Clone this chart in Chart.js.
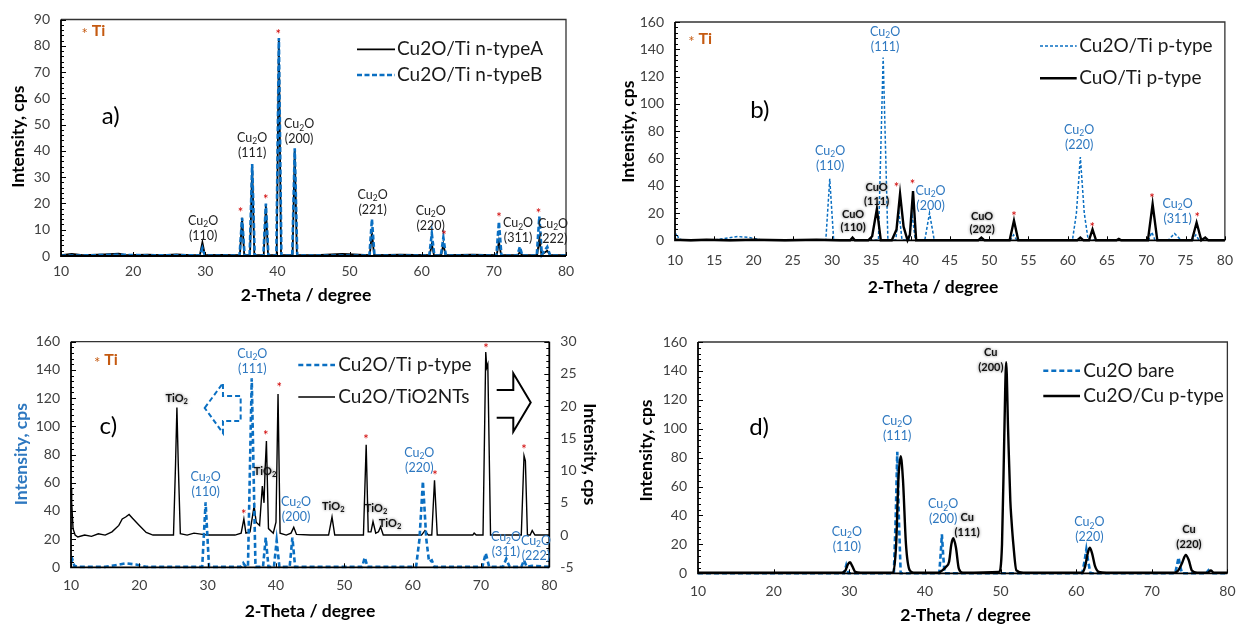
<!DOCTYPE html>
<html><head><meta charset="utf-8">
<script src="https://cdn.jsdelivr.net/npm/chart.js@4.4.1/dist/chart.umd.min.js"></script>
<style>
html,body{margin:0;padding:0;background:#fff;}
#wrap{position:relative;width:1245px;height:626px;overflow:hidden;background:#fff;}
canvas{position:absolute;}
</style></head><body>
<div id="wrap">
<canvas id="cA" width="605" height="313" style="left:0px;top:0px"></canvas>
<canvas id="cB" width="640" height="313" style="left:605px;top:0px"></canvas>
<canvas id="cC" width="605" height="313" style="left:0px;top:313px"></canvas>
<canvas id="cD" width="640" height="313" style="left:605px;top:313px"></canvas>
</div>
<script>
// ================= DATA =================
// ---- panel a ----
const aRangeX = [10, 80, 10];
const aRangeY = [0, 90, 10];
const aNames = ['Cu2O/Ti n-typeA', 'Cu2O/Ti n-typeB'];
const aSeriesA = [[10,0.3],[11.5,0.8],[13,0.3],[16,0.6],[18,0.9],[19,0.3],[22,0.5],[24,0.3],[26,0.6],[28,0.3],[29.25,0.3],[29.6,5.2],[29.95,0.3],[32,0.4],[34.8,0.3],[35.1,14.5],[35.4,0.3],[36.2,0.3],[36.5,34],[36.8,0.3],[38.1,0.3],[38.4,19],[38.7,0.3],[39.9,0.3],[40.2,82],[40.5,0.3],[42.1,0.3],[42.4,40],[42.7,0.3],[46,0.4],[49,0.8],[52.8,0.3],[53.1,9],[53.4,0.3],[57,0.5],[61.1,0.3],[61.4,4.5],[61.7,0.3],[62.7,0.3],[63,4.5],[63.3,0.3],[67,0.5],[70.4,0.3],[70.7,5.5],[71,0.3],[73.3,0.3],[73.6,1.5],[73.9,0.3],[76,0.3],[76.3,6.5],[76.6,0.5],[77.4,2],[77.8,0.3],[80,0.3]];
const aSeriesB = [[10,0.2],[13,0.2],[18,0.5],[22,0.2],[28,0.3],[29.25,0.2],[29.6,3],[29.95,0.2],[34.75,0.2],[35.1,14.5],[35.45,0.2],[36.15,0.2],[36.5,35],[36.85,0.2],[38.05,0.2],[38.4,20],[38.75,0.2],[39.85,0.2],[40.2,83],[40.55,0.2],[42.05,0.2],[42.4,41],[42.75,0.2],[52.75,0.2],[53.1,14],[53.45,0.2],[61.05,0.2],[61.4,8.5],[61.75,0.2],[62.65,0.2],[63,7],[63.35,0.2],[70.35,0.2],[70.7,13],[71.05,0.2],[73.25,0.2],[73.6,3.5],[73.95,0.2],[75.95,0.2],[76.3,15],[76.65,0.5],[77.4,3.5],[77.8,0.2],[80,0.2]];
const aPeakLabels = [[29.7,13.3,'(110)'],[36.5,45,'(111)'],[43.0,50.1,'(200)'],[53.2,23.2,'(221)'],[61.25,17.1,'(220)'],[73.35,12.4,'(311)'],[78.2,12.2,'(222)']];
const aTiMarks = [[34.9,17.6],[38.4,22.6],[40.1,85.6],[63.1,9.0],[70.7,15.9],[76.2,17.2]];

// ---- panel b ----
const bRangeX = [10, 80, 5];
const bRangeY = [0, 160, 20];
const bNames = ['Cu2O/Ti p-type', 'CuO/Ti p-type'];
const bBlue = [[10,3],[10.2,5],[10.5,1],[11,0.2],[15,0.2],[16.5,1.5],[18,2.8],[19.5,2],[21,0.2],[25,0.2],[29.2,0.2],[29.7,45],[30.2,0.2],[35.9,0.2],[36.5,134],[37.1,0.2],[38.1,0.2],[38.5,21],[38.9,0.2],[39.8,0.2],[40.2,18],[40.6,0.2],[41.8,0.2],[42.4,20],[43.0,0.2],[52.7,0.2],[53.1,4],[53.5,0.2],[60.6,0.2],[61.1,20],[61.6,61],[62.1,20],[62.6,0.2],[70.3,0.2],[70.7,6],[71.1,0.2],[72.8,0.2],[73.6,5],[74.4,0.2],[75.9,0.2],[76.3,4],[76.7,0.2],[80,0.2]];
const bBlack = [[10,0.5],[12,0],[14,0.5],[17,0],[20,0.5],[24,0],[28,0.5],[31,0],[32.3,0],[32.6,2],[32.9,0],[34.6,0],[35.1,3],[35.7,23],[36.2,0],[37.6,0],[38.2,8],[38.65,34],[39.1,10],[39.6,0],[39.9,4],[40.3,36],[40.7,0],[45,0],[48.6,0],[49.0,2],[49.4,0],[52.6,0],[53.15,14.5],[53.7,0],[58,0],[61.2,0],[61.6,2],[62.0,0],[62.7,0],[63.15,8],[63.6,0],[66.2,0],[66.5,1],[66.8,0],[68,0],[70.2,0],[70.8,26.5],[71.4,0],[75.8,0],[76.4,13],[77.0,0],[77.5,2],[77.9,0],[80,0]];
const bBlueLabels = [[29.75,65.5,'(110)'],[36.74,152.9,'(111)'],[42.53,36.4,'(200)'],[61.45,80.9,'(220)'],[73.98,26.6,'(311)']];
const bBlackLabels = [[32.67,19.1,'(110)'],[35.67,38.6,'(111)'],[49.1,17.8,'(202)']];
const bTiMarks = [[38.2,41.3],[40.23,43],[53.17,19.8],[63.12,12],[70.73,33.2],[76.47,19.1]];

// ---- panel c ----
const cRangeX = [10, 80, 10];
const cRangeY = [0, 160, 20];
const cRangeY2 = [-5, 30, 5];
const cNames = ['Cu2O/Ti p-type', 'Cu2O/TiO2NTs'];
const cBlue = [[10,3],[10.2,5.5],[10.5,1],[11,0.3],[15,0.3],[16.5,1.5],[18,2.8],[19.5,2],[21,0.3],[25,0.3],[29.2,0.3],[29.7,46],[30.2,0.3],[34.8,0.3],[35.2,3],[35.6,0.3],[35.9,0.3],[36.45,134],[37.0,0.3],[38.1,0.3],[38.5,21],[38.9,0.3],[39.7,0.3],[40.1,19],[40.5,0.3],[42.0,0.3],[42.4,21],[42.8,0.3],[52.6,0.3],[53.0,7],[53.4,0.3],[60.5,0.3],[61.0,20],[61.5,61],[62.0,20],[62.4,4],[62.8,5],[63.2,0.3],[70.2,0.3],[70.7,10],[71.2,0.3],[73.2,0.3],[73.7,6],[74.2,0.3],[75.9,0.3],[76.3,5],[76.7,0.3],[77.5,1],[80,0.3]];
const cBlack = [[10,7.2],[10.1,5],[10.3,1],[10.6,0],[11,-0.3],[12,0],[13,-0.2],[14,0.2],[15,0],[16,0.5],[17,1.5],[17.5,2.5],[18,2.8],[18.5,3.2],[19,2.6],[20,1.5],[21,0.4],[22,0],[24,0],[25.0,0],[25.3,11],[25.5,19.8],[25.7,11],[26.0,0.2],[27,0],[28,0.3],[30,0],[32,0],[34,0],[34.9,0.3],[35.3,2.5],[35.6,0.3],[36.2,0.5],[36.5,2.5],[36.8,4.5],[37.1,2],[37.6,1.5],[38.0,7.6],[38.25,5],[38.4,10],[38.6,14.6],[38.9,1],[39.6,0.3],[40.0,2],[40.3,21.9],[40.6,0.3],[41.5,0],[42.2,0.3],[42.6,1.2],[43.0,0.1],[45,0],[47.7,0],[48.2,2.8],[48.6,0],[50,0],[52.8,0],[53.2,14],[53.5,0.5],[53.9,0.5],[54.2,2.1],[54.6,0.3],[55.0,0.5],[55.3,1.3],[55.7,0],[58,0],[61.3,0],[61.8,0.7],[62.3,0],[62.8,0],[63.2,8.5],[63.6,0],[66,0],[68.8,0],[69.0,0.3],[69.3,0],[70.3,0],[70.7,28.4],[70.85,26],[71.0,26.5],[71.4,0],[74,0],[75.9,0],[76.3,12.3],[76.5,11.5],[76.8,0],[77.2,0],[77.5,0.7],[77.9,0],[80,0]];
const cBlueLabels = [[29.71,64.3,'(110)'],[36.53,151.1,'(111)'],[42.93,46.5,'(200)'],[60.97,80.9,'(220)'],[73.66,21.3,'(311)'],[78.05,18.9,'(222)']];
const cTiO2Labels = [[25.47,119.4],[38.39,67.8],[48.39,43],[54.64,41.8],[56.69,31.2]];
const cTiMarks = [[35.27,39.4],[38.49,95.5],[40.48,130],[53.17,92.6],[63.27,67.1],[70.73,157.2],[76.3,85.5]];
const cArrowLeft = [[29.57,113],[32.24,130.7],[32.24,121.5],[34.83,121.5],[34.83,103.8],[32.24,103.8],[32.24,95.2]];
const cArrowRight = [[72.3,125.7],[74.73,125.7],[74.73,137.6],[77.28,116.9],[74.73,96.2],[74.73,106.1],[72.3,106.1]];

// ---- panel d ----
const dRangeX = [10, 80, 10];
const dRangeY = [0, 160, 20];
const dNames = ['Cu2O bare', 'Cu2O/Cu p-type'];
const dBlue = [[10,0],[20,0],[29.3,0],[29.6,5.5],[29.9,0],[35.9,0],[36.15,40],[36.35,84],[36.55,40],[36.8,0],[41.9,0],[42.1,14],[42.25,27],[42.4,14],[42.6,0],[50,0],[60.8,0],[61.1,8],[61.35,16.5],[61.6,8],[61.9,0],[73.1,0],[73.35,6],[73.55,11],[73.75,5],[74,0],[77.2,0],[77.5,2],[77.8,0],[80,0]];
const dBlack = [[10,0.5],[20,0.5],[29,0.5],[29.5,2],[29.8,6],[30.1,7.6],[30.4,5],[30.8,1],[31.5,0.5],[35.8,0.5],[36.2,20],[36.5,65],[36.8,81],[37.1,65],[37.5,20],[38,2],[38.5,0.5],[41.8,0.5],[42.3,2],[42.8,4.5],[43.2,8],[43.5,20],[43.75,24.2],[44.1,18],[44.5,3],[45,0.5],[49.8,1],[50.2,20],[50.5,95],[50.75,146],[51.0,100],[51.3,50],[51.45,37],[51.7,20],[52.1,2],[53,0.5],[60.8,0.5],[61.2,5],[61.5,13],[61.8,17.7],[62.1,14],[62.5,5],[63,1],[64,0.5],[73,0.5],[73.5,2],[74.0,7],[74.5,12.7],[74.9,9],[75.3,2],[76,0.5],[77.4,0.5],[77.8,2],[78.2,0.5],[80,0.5]];
const dBlueLabels = [[29.69,28.8,'(110)'],[36.33,105.3,'(111)'],[42.42,47.7,'(200)'],[61.75,35.3,'(220)']];
const dCuLabels = [[45.59,38.7,'(111)'],[48.72,152.6,'(200)'],[74.92,30.6,'(220)']];

// ================= STYLE =================
const FONT = 'Lato, "Open Sans", sans-serif';
const BLUE = '#0A6FC2';
const BLUE_T = '#2E78C0';
const TICK = '#404040';
const ORANGE = '#C55A11';
const RED = '#D00000';

const pts = s => s.map(([x, y]) => ({x, y}));

function parseRich(str) {
  const parts = []; const re = /_(\d)/g; let last = 0, m;
  while ((m = re.exec(str))) {
    if (m.index > last) parts.push([str.slice(last, m.index), false]);
    parts.push([m[1], true]); last = re.lastIndex;
  }
  if (last < str.length) parts.push([str.slice(last), false]);
  return parts;
}
function drawRich(ctx, str, x, y, size, weight, color, align) {
  const parts = parseRich(str);
  const fN = weight + ' ' + size + 'px ' + FONT, fS = weight + ' ' + (size * 0.68).toFixed(1) + 'px ' + FONT;
  let w = 0;
  for (const [t, s] of parts) { ctx.font = s ? fS : fN; w += ctx.measureText(t).width; }
  let cx = align === 'left' ? x : (align === 'right' ? x - w : x - w / 2);
  ctx.fillStyle = color; ctx.textBaseline = 'middle'; ctx.textAlign = 'left';
  for (const [t, s] of parts) {
    ctx.font = s ? fS : fN;
    ctx.fillText(t, cx, s ? y + size * 0.28 : y);
    cx += ctx.measureText(t).width;
  }
}

const decorPlugin = {
  id: 'decor',
  beforeDatasetsDraw(chart, args, o) {
    const ctx = chart.ctx, ca = chart.chartArea;
    ctx.save();
    ctx.strokeStyle = '#333'; ctx.lineWidth = 1.3;
    ctx.beginPath(); ctx.moveTo(ca.left, ca.top); ctx.lineTo(ca.right, ca.top);
    if (!chart.scales.y2) ctx.lineTo(ca.right, ca.bottom);
    ctx.stroke();
    ctx.restore();
  },
  afterDatasetsDraw(chart, args, o) {
    const ctx = chart.ctx, ca = chart.chartArea, sx = chart.scales.x;
    ctx.save();
    ctx.strokeStyle = '#000'; ctx.lineWidth = 1.8;
    ctx.beginPath(); ctx.moveTo(ca.left, ca.top); ctx.lineTo(ca.left, ca.bottom); ctx.lineTo(ca.right, ca.bottom); ctx.stroke();
    if (chart.scales.y2) { ctx.beginPath(); ctx.moveTo(ca.right, ca.top); ctx.lineTo(ca.right, ca.bottom); ctx.stroke(); }
    ctx.lineWidth = 1;
    for (const [id, minor] of o.yTicks) {
      const sc = chart.scales[id], major = sc.options.ticks.stepSize;
      const n = Math.round((sc.max - sc.min) / minor);
      const xb = sc.position === 'left' ? ca.left : ca.right, dir = sc.position === 'left' ? 1 : -1;
      ctx.beginPath();
      for (let i = 0; i <= n; i++) {
        const v = sc.min + i * minor, q = (v - sc.min) / major;
        const len = Math.abs(q - Math.round(q)) < 1e-6 ? 5 : 3;
        const py = Math.round(sc.getPixelForValue(v)) + 0.5;
        ctx.moveTo(xb, py); ctx.lineTo(xb + dir * len, py);
      }
      ctx.stroke();
    }
    {
      const step = sx.options.ticks.stepSize; const n = Math.round((sx.max - sx.min) / step);
      ctx.beginPath();
      for (let i = 0; i <= n; i++) {
        const px = Math.round(sx.getPixelForValue(sx.min + i * step)) + 0.5;
        ctx.moveTo(px, ca.bottom); ctx.lineTo(px, ca.bottom - 4);
      }
      ctx.stroke();
    }
    const sy = chart.scales.y;
    for (const L of (o.labels || [])) {
      const px = sx.getPixelForValue(L.x), py = sy.getPixelForValue(L.y);
      ctx.save();
      if (L.glow) { ctx.shadowColor = 'rgba(0,0,0,0.55)'; ctx.shadowBlur = 3; }
      L.lines.forEach((t, i) => drawRich(ctx, t, px, py + i * L.gap, L.size, L.bold ? 'bold' : 'normal', L.color, 'center'));
      ctx.restore();
    }
    ctx.fillStyle = RED; ctx.font = '13px ' + FONT; ctx.textAlign = 'center'; ctx.textBaseline = 'middle';
    for (const [x, y] of (o.stars || [])) ctx.fillText('*', sx.getPixelForValue(x), sy.getPixelForValue(y) + 3.5);
    if (o.ti) {
      const px = sx.getPixelForValue(o.ti[0]), py = sy.getPixelForValue(o.ti[1]);
      ctx.fillStyle = ORANGE; ctx.font = '15px ' + FONT; ctx.textAlign = 'center';
      ctx.fillText('*', px, py + 4);
      ctx.font = 'bold 16px ' + FONT; ctx.textAlign = 'left';
      ctx.fillText('Ti', px + 7, py + 1);
    }
    if (o.letter) {
      ctx.fillStyle = '#000'; ctx.font = '24px ' + FONT; ctx.textAlign = 'center'; ctx.textBaseline = 'middle';
      ctx.fillText(o.letter[0], sx.getPixelForValue(o.letter[1]), sy.getPixelForValue(o.letter[2]));
    }
    for (const A of (o.arrows || [])) {
      const sc = chart.scales[A.axis];
      ctx.save();
      ctx.strokeStyle = A.color; ctx.lineWidth = A.width; ctx.setLineDash(A.dash || []);
      ctx.lineJoin = 'miter';
      ctx.beginPath();
      A.pts.forEach(([x, y], i) => { const px = sx.getPixelForValue(x), py = sc.getPixelForValue(y); if (i) ctx.lineTo(px, py); else ctx.moveTo(px, py); });
      if (A.closed) ctx.closePath();
      ctx.stroke();
      ctx.restore();
    }
    if (o.legend) {
      const Lg = o.legend;
      Lg.items.forEach(([di, text], i) => {
        const ds = chart.data.datasets[di], y = Lg.rows[i];
        ctx.save();
        ctx.strokeStyle = ds.borderColor; ctx.lineWidth = ds.borderWidth; ctx.setLineDash(ds.borderDash || []);
        ctx.beginPath(); ctx.moveTo(Lg.x1, y); ctx.lineTo(Lg.x2, y); ctx.stroke();
        ctx.restore();
        ctx.fillStyle = '#1a1a1a'; ctx.font = Lg.size + 'px ' + FONT; ctx.textAlign = 'left'; ctx.textBaseline = 'middle';
        ctx.fillText(text, Lg.tx, y);
      });
    }
    for (const T of (o.titles || [])) {
      ctx.save();
      ctx.translate(T.x, T.y); ctx.rotate(T.rot || 0);
      ctx.fillStyle = T.color || '#000'; ctx.font = 'bold 17.5px ' + FONT; ctx.textAlign = 'center'; ctx.textBaseline = 'middle';
      ctx.fillText(T.text, 0, 0);
      ctx.restore();
    }
    ctx.restore();
  }
};

function axisBase(range, pad) {
  return {
    type: 'linear', min: range[0], max: range[1],
    ticks: { stepSize: range[2], autoSkip: false, padding: pad, color: TICK, font: { family: FONT, size: 14 }, maxRotation: 0 },
    grid: { display: false, drawTicks: false }, border: { display: false }
  };
}

function makeChart(id, P) {
  const cv = document.getElementById(id);
  const W = cv.width, H = cv.height, A = P.area;
  const x = axisBase(P.rx, P.xpad); x.position = 'bottom'; x.afterFit = s => { s.height = H - A.b; };
  const y = axisBase(P.ry, 11); y.position = 'left'; y.afterFit = s => { s.width = A.l; };
  const scales = { x, y };
  if (P.ry2) { const y2 = axisBase(P.ry2, 11); y2.position = 'right'; y2.afterFit = s => { s.width = W - A.r; }; scales.y2 = y2; }
  return new Chart(cv, {
    type: 'line',
    data: { datasets: P.datasets },
    options: {
      responsive: false, animation: false, events: [],
      layout: { padding: { left: 0, top: A.t, right: P.ry2 ? 0 : W - A.r, bottom: 0 } },
      elements: { point: { radius: 0 }, line: { tension: 0 } },
      plugins: { legend: { display: false }, tooltip: { enabled: false }, decor: P.decor },
      scales
    },
    plugins: [decorPlugin]
  });
}

const cu2oLabels = (arr, color) => arr.map(([x, y, t]) => ({ x, y, lines: ['Cu_2O', t], color, size: 12.5, gap: 15 }));

makeChart('cA', {
  area: { l: 61, t: 19.5, r: 566, b: 256 }, rx: aRangeX, ry: aRangeY, xpad: 7,
  datasets: [
    { label: aNames[1], data: pts(aSeriesB), borderColor: BLUE, borderWidth: 2.6, borderDash: [5, 2.5], clip: 6 },
    { label: aNames[0], data: pts(aSeriesA), borderColor: '#000', borderWidth: 1.8, clip: 6 }
  ],
  decor: {
    yTicks: [['y', 2]],
    labels: cu2oLabels(aPeakLabels, '#222'),
    stars: aTiMarks, ti: [13.3, 86], letter: ['a)', 16.9, 53],
    legend: { x1: 357, x2: 395, tx: 397, rows: [49.3, 75], size: 19, items: [[1, aNames[0]], [0, aNames[1]]] },
    titles: [{ text: '2-Theta / degree', x: 306, y: 295 }, { text: 'Intensity, cps', x: 18.3, y: 136.7, rot: -Math.PI / 2 }]
  }
});

makeChart('cB', {
  area: { l: 70, t: 22, r: 631, b: 240.3 }, rx: bRangeX, ry: bRangeY, xpad: 12,
  datasets: [
    { label: bNames[1], data: pts(bBlack), borderColor: '#000', borderWidth: 2.4, clip: 6 },
    { label: bNames[0], data: pts(bBlue), borderColor: BLUE, borderWidth: 1.5, borderDash: [3, 2], clip: 6 }
  ],
  decor: {
    yTicks: [['y', 4]],
    labels: cu2oLabels(bBlueLabels, BLUE_T).concat(bBlackLabels.map(([x, y, t]) => ({ x, y, lines: ['CuO', t], color: '#111', bold: true, size: 11, gap: 13.4, glow: true }))),
    stars: bTiMarks, ti: [12.1, 148.1], letter: ['b)', 20.8, 95.5],
    legend: { x1: 435, x2: 471.7, tx: 474.3, rows: [46, 78.3], size: 19, items: [[1, bNames[0]], [0, bNames[1]]] },
    titles: [{ text: '2-Theta / degree', x: 328, y: 287 }, { text: 'Intensity, cps', x: 23.3, y: 131.7, rot: -Math.PI / 2 }]
  }
});

makeChart('cC', {
  area: { l: 71, t: 28.7, r: 549.3, b: 254.3 }, rx: cRangeX, ry: cRangeY, ry2: cRangeY2, xpad: 9.5,
  datasets: [
    { label: cNames[0], data: pts(cBlue), borderColor: BLUE, borderWidth: 2.6, borderDash: [5, 3], yAxisID: 'y', clip: 6 },
    { label: cNames[1], data: pts(cBlack), borderColor: '#000', borderWidth: 1.4, yAxisID: 'y2', clip: 6 }
  ],
  decor: {
    yTicks: [['y', 4], ['y2', 1]],
    labels: cu2oLabels(cBlueLabels, BLUE_T).concat(cTiO2Labels.map(([x, y]) => ({ x, y, lines: ['TiO_2'], color: '#111', bold: true, size: 11, gap: 0, glow: true }))),
    stars: cTiMarks, ti: [13.85, 147.5], letter: ['c)', 15.46, 100.2],
    arrows: [
      { axis: 'y', pts: cArrowLeft, color: BLUE, width: 2, dash: [5, 3], closed: true },
      { axis: 'y', pts: cArrowRight, color: '#000', width: 2, closed: false }
    ],
    legend: { x1: 298.3, x2: 335, tx: 338.3, rows: [52, 84], size: 19, items: [[0, cNames[0]], [1, cNames[1]]] },
    titles: [
      { text: '2-Theta / degree', x: 310, y: 298.7 },
      { text: 'Intensity, cps', x: 21.7, y: 141.2, rot: -Math.PI / 2, color: BLUE_T },
      { text: 'Intensity, cps', x: 589.3, y: 141.2, rot: Math.PI / 2 }
    ]
  }
});

makeChart('cD', {
  area: { l: 93, t: 29, r: 630, b: 260.3 }, rx: dRangeX, ry: dRangeY, xpad: 9.5,
  datasets: [
    { label: dNames[1], data: pts(dBlack), borderColor: '#000', borderWidth: 2.4, cubicInterpolationMode: 'monotone', clip: 6 },
    { label: dNames[0], data: pts(dBlue), borderColor: BLUE, borderWidth: 2.6, borderDash: [5, 3], clip: 6 }
  ],
  decor: {
    yTicks: [['y', 4]],
    labels: cu2oLabels(dBlueLabels, BLUE_T).concat(dCuLabels.map(([x, y, t]) => ({ x, y, lines: ['Cu', t], color: '#111', bold: true, size: 11, gap: 15, glow: true }))),
    letter: ['d)', 18.08, 101],
    legend: { x1: 438.3, x2: 475, tx: 478.3, rows: [57.7, 83], size: 19, items: [[1, dNames[0]], [0, dNames[1]]] },
    titles: [{ text: '2-Theta / degree', x: 360.5, y: 302 }, { text: 'Intensity, cps', x: 41.7, y: 137.5, rot: -Math.PI / 2 }]
  }
});
</script>
</body></html>
